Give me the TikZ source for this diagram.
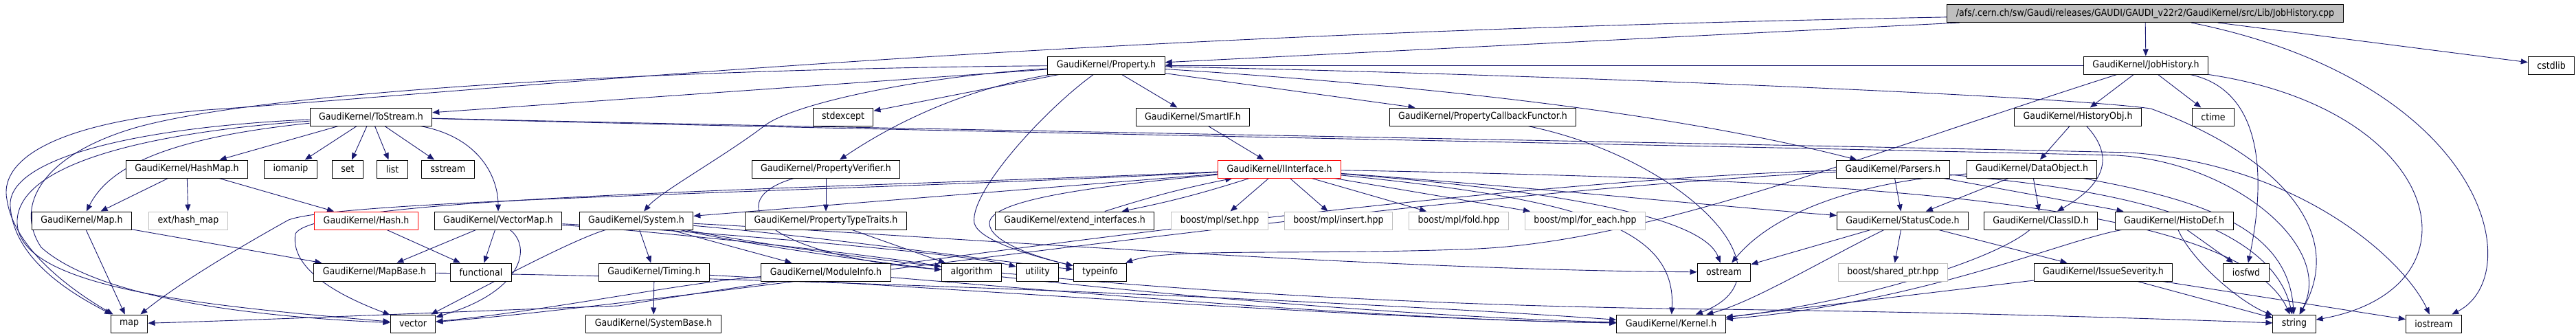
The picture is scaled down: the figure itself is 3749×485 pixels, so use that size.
\documentclass[tikz,border=0pt]{standalone}
\usepackage{fontspec}
\setmainfont{DejaVu Sans}[FakeStretch=0.9]
\usetikzlibrary{arrows.meta,backgrounds}

\definecolor{navy}{HTML}{191970}
\definecolor{hdrgray}{HTML}{BFBFBF}

\tikzset{
  box/.style={draw, fill=white, line width=1pt, minimum height=26pt,
    inner xsep=13pt, inner ysep=0pt, font=\fontsize{14}{16}\selectfont},
  redbox/.style={box, draw=red},
  sysbox/.style={box, draw=hdrgray},
  hdr/.style={box, fill=hdrgray},
  dep/.style={draw=navy, line width=0.9pt, -{Triangle[length=10pt,width=8pt]}}
}

\begin{document}
\begin{tikzpicture}[x=1pt,y=-1pt]
  \useasboundingbox (0,0) rectangle (3749,485);

  % rows 0..2
  \node[hdr] (cpp) at (3122,19.5) {/afs/.cern.ch/sw/Gaudi/releases/GAUDI/GAUDI\_v22r2/GaudiKernel/src/Lib/JobHistory.cpp};
  \node[box] (prop) at (1610,95) {GaudiKernel/Property.h};
  \node[box] (jobh) at (3123,95) {GaudiKernel/JobHistory.h};
  \node[box] (cstdlib) at (3713,95) {cstdlib};
  \node[box] (tostream) at (540,170) {GaudiKernel/ToStream.h};
  \node[box] (stdexcept) at (1227,170) {stdexcept};
  \node[box] (smartif) at (1736,170) {GaudiKernel/SmartIF.h};
  \node[box] (pcf) at (2158,170) {GaudiKernel/PropertyCallbackFunctor.h};
  \node[box] (histobj) at (3024,170) {GaudiKernel/HistoryObj.h};
  \node[box] (ctime) at (3221,170) {ctime};

  % row 3
  \node[box] (hashmap) at (272,246) {GaudiKernel/HashMap.h};
  \foreach \n/\x in {iomanip/423,set/506,list/571,sstream/652}
    \node[box] (\n) at (\x,246) {\n};
  \node[box] (propver) at (1202,246) {GaudiKernel/PropertyVerifier.h};
  \node[redbox] (iiface) at (1862,246) {GaudiKernel/IInterface.h};
  \node[box] (parsers) at (2755,246) {GaudiKernel/Parsers.h};
  \node[box] (dataobj) at (2957,246) {GaudiKernel/DataObject.h};

  % row 4
  \node[box] (mapH) at (119,321) {GaudiKernel/Map.h};
  \node[sysbox] (hashext) at (274,321) {ext/hash\_map};
  \node[redbox] (hash) at (533,321) {GaudiKernel/Hash.h};
  \node[box] (vecmap) at (725,321) {GaudiKernel/VectorMap.h};
  \node[box] (system) at (926,321) {GaudiKernel/System.h};
  \node[box] (ptt) at (1202,321) {GaudiKernel/PropertyTypeTraits.h};
  \node[box] (extif) at (1564,321) {GaudiKernel/extend\_interfaces.h};
  \node[sysbox] (mplset) at (1775,321) {boost/mpl/set.hpp};
  \node[sysbox] (mplins) at (1948,321) {boost/mpl/insert.hpp};
  \node[sysbox] (mplfold) at (2123,321) {boost/mpl/fold.hpp};
  \node[sysbox] (mplfe) at (2307,321) {boost/mpl/for\_each.hpp};
  \node[box] (status) at (2769,321) {GaudiKernel/StatusCode.h};
  \node[box] (classid) at (2970,321) {GaudiKernel/ClassID.h};
  \node[box] (histodef) at (3164,321) {GaudiKernel/HistoDef.h};

  % row 5
  \node[box] (mapbase) at (545,396) {GaudiKernel/MapBase.h};
  \node[box] (functional) at (700,396) {functional};
  \node[box] (timing) at (952,396) {GaudiKernel/Timing.h};
  \node[box] (modinfo) at (1202,396) {GaudiKernel/ModuleInfo.h};
  \node[box] (algorithm) at (1414,396) {algorithm};
  \node[box] (utility) at (1510,396) {utility};
  \node[box] (typeinfo) at (1601,396) {typeinfo};
  \node[box] (ostream) at (2509,396) {ostream};
  \node[sysbox] (sharedptr) at (2755,396) {boost/shared\_ptr.hpp};
  \node[box] (issue) at (3061,396) {GaudiKernel/IssueSeverity.h};
  \node[box] (iosfwd) at (3269,396) {iosfwd};

  % row 6
  \node[box] (map) at (188,471) {map};
  \node[box] (vector) at (601,471) {vector};
  \node[box] (sysbase) at (951,471) {GaudiKernel/SystemBase.h};
  \node[box] (kernel) at (2432,471) {GaudiKernel/Kernel.h};
  \node[box] (string) at (3339,471) {string};
  \node[box] (iostream) at (3542,471) {iostream};

  \begin{scope}[on background layer]
    % JobHistory.cpp
    \draw[dep] (cpp) -- (jobh);
    \draw[dep] (cpp) -- (cstdlib);
    \draw[dep] (cpp) .. controls (3620,120) and (3680,400) .. (iostream);
    \draw[dep] (cpp) -- (prop);
    \draw[dep] (cpp) .. controls (1500,50) and (800,125) .. (300,160)
      .. controls (60,180) and (0,240) .. (10,290) .. controls (20,360) and (100,420) .. (map);

    % JobHistory.h
    \draw[dep] (jobh) -- (prop);
    \draw[dep] (jobh) -- (histobj);
    \draw[dep] (jobh) -- (ctime);
    \draw[dep] (jobh) .. controls (3290,130) and (3300,250) .. (iosfwd);
    \draw[dep] (jobh) .. controls (3560,160) and (3620,420) .. (string);
    \draw[dep] (jobh) .. controls (2700,230) and (2400,350) .. (2150,362)
      .. controls (1900,372) and (1700,360) .. (typeinfo);

    % Property.h
    \draw[dep] (prop) -- (tostream);
    \draw[dep] (prop) -- (stdexcept);
    \draw[dep] (prop) .. controls (1400,130) and (1300,180) .. (propver);
    \draw[dep] (prop) -- (smartif);
    \draw[dep] (prop) -- (pcf);
    \draw[dep] (prop) .. controls (2000,120) and (2400,155) .. (parsers);
    \draw[dep] (prop) .. controls (1350,110) and (1150,150) .. (1110,185)
      .. controls (1050,230) and (960,280) .. (system);
    \draw[dep] (prop) .. controls (1520,160) and (1410,280) .. (1418,325)
      .. controls (1425,350) and (1500,372) .. (typeinfo);
    \draw[dep] (prop) .. controls (2300,110) and (3000,140) .. (3130,158)
      .. controls (3300,220) and (3420,330) .. (string);
    \draw[dep] (prop) .. controls (1000,100) and (400,130) .. (200,185)
      .. controls (60,225) and (20,300) .. (60,360) .. controls (150,440) and (400,462) .. (vector);

    % ToStream.h
    \draw[dep] (tostream) -- (hashmap);
    \draw[dep] (tostream) -- (iomanip);
    \draw[dep] (tostream) -- (set);
    \draw[dep] (tostream) -- (list);
    \draw[dep] (tostream) -- (sstream);
    \draw[dep] (tostream) .. controls (700,200) and (725,260) .. (vecmap);
    \draw[dep] (tostream) .. controls (250,200) and (160,240) .. (mapH);
    \draw[dep] (tostream) .. controls (200,185) and (10,230) .. (15,300)
      .. controls (20,380) and (110,430) .. (map);
    \draw[dep] (tostream) .. controls (250,190) and (30,230) .. (25,320)
      .. controls (20,420) and (300,445) .. (vector);
    \draw[dep] (tostream) .. controls (1200,188) and (2500,212) .. (3080,226)
      .. controls (3250,235) and (3400,360) .. (string);
    \draw[dep] (tostream) .. controls (1200,186) and (2500,208) .. (3100,222)
      .. controls (3350,240) and (3500,380) .. (iostream);

    % maps
    \draw[dep] (hashmap) -- (mapH);
    \draw[dep] (hashmap) -- (hashext);
    \draw[dep] (hashmap) -- (hash);
    \draw[dep] (mapH) -- (map);
    \draw[dep] (mapH) -- (mapbase);
    \draw[dep] (hash) -- (functional);
    \draw[dep] (mapbase) .. controls (1200,405) and (2000,440) .. (kernel);
    \draw[dep] (vecmap) -- (mapbase);
    \draw[dep] (vecmap) -- (functional);
    \draw[dep] (vecmap) .. controls (775,360) and (760,425) .. (vector);
    \draw[dep] (vecmap) .. controls (1000,340) and (1300,375) .. (algorithm);
    \draw[dep] (vecmap) .. controls (1000,335) and (1400,368) .. (utility);

    % System.h
    \draw[dep] (system) -- (timing);
    \draw[dep] (system) -- (modinfo);
    \draw[dep] (system) .. controls (830,350) and (700,420) .. (vector);
    \draw[dep] (system) .. controls (1200,345) and (1450,380) .. (typeinfo);
    \draw[dep] (system) .. controls (1300,340) and (2000,393) .. (ostream);
    \draw[dep] (system) .. controls (1300,400) and (2000,460) .. (kernel);
    \draw[dep] (system) .. controls (1400,410) and (2000,445) .. (2500,450)
      .. controls (2900,455) and (3200,466) .. (string);
    \draw[dep] (timing) -- (sysbase);
    \draw[dep] (timing) .. controls (1400,420) and (2000,465) .. (kernel);
    \draw[dep] (modinfo) .. controls (1500,420) and (2000,465) .. (kernel);
    \draw[dep] (modinfo) .. controls (1000,410) and (800,452) .. (vector);

    % property helpers
    \draw[dep] (propver) -- (ptt);
    \draw[dep] (propver) .. controls (1050,290) and (1100,370) .. (algorithm);
    \draw[dep] (ptt) -- (algorithm);
    \draw[dep] (smartif) -- (iiface);
    \draw[dep] (pcf) .. controls (2450,230) and (2620,400) .. (kernel);

    % IInterface.h
    \draw[dep] (iiface) to[bend left=3] (extif);
    \draw[dep] (extif) to[bend left=3] (iiface);
    \draw[dep] (iiface) -- (mplset);
    \draw[dep] (iiface) -- (mplins);
    \draw[dep] (iiface) -- (mplfold);
    \draw[dep] (iiface) -- (mplfe);
    \draw[dep] (iiface) -- (system);
    \draw[dep] (iiface) .. controls (2300,290) and (2440,330) .. (kernel);
    \draw[dep] (iiface) .. controls (2200,270) and (2500,300) .. (status);
    \draw[dep] (iiface) .. controls (2300,280) and (2480,320) .. (ostream);
    \draw[dep] (iiface) .. controls (1600,270) and (1440,290) .. (1440,325)
      .. controls (1440,350) and (1500,372) .. (typeinfo);
    \draw[dep] (iiface) .. controls (1200,280) and (500,290) .. (420,320)
      .. controls (330,370) and (250,420) .. (map);
    \draw[dep] (iiface) .. controls (1200,275) and (460,285) .. (430,340)
      .. controls (420,400) and (520,440) .. (vector);
    \draw[dep] (iiface) .. controls (2600,260) and (3250,280) .. (string);

    % Parsers.h, DataObject.h, HistoryObj.h
    \draw[dep] (parsers) -- (status);
    \draw[dep] (parsers) -- (histodef);
    \draw[dep] (parsers) .. controls (2200,260) and (1300,380) .. (900,445)
      .. controls (700,452) and (400,465) .. (map);
    \draw[dep] (parsers) .. controls (2000,285) and (1000,440) .. (vector);
    \draw[dep] (parsers) .. controls (3000,270) and (3300,300) .. (string);
    \draw[dep] (dataobj) -- (status);
    \draw[dep] (dataobj) -- (classid);
    \draw[dep] (dataobj) .. controls (2700,265) and (2580,310) .. (ostream);
    \draw[dep] (dataobj) .. controls (3200,290) and (3330,330) .. (string);
    \draw[dep] (histobj) -- (dataobj);
    \draw[dep] (histobj) .. controls (3080,230) and (3060,270) .. (classid);

    % StatusCode.h and the rest
    \draw[dep] (status) -- (ostream);
    \draw[dep] (status) -- (sharedptr);
    \draw[dep] (status) -- (issue);
    \draw[dep] (status) .. controls (2650,380) and (2550,440) .. (kernel);
    \draw[dep] (classid) .. controls (2900,380) and (2700,440) .. (kernel);
    \draw[dep] (histodef) -- (iosfwd);
    \draw[dep] (histodef) .. controls (3190,380) and (3260,440) .. (string);
    \draw[dep] (histodef) .. controls (3000,350) and (2800,440) .. (kernel);
    \draw[dep] (issue) -- (string);
    \draw[dep] (issue) -- (iostream);
    \draw[dep] (issue) -- (kernel);
  \end{scope}
\end{tikzpicture}
\end{document}
